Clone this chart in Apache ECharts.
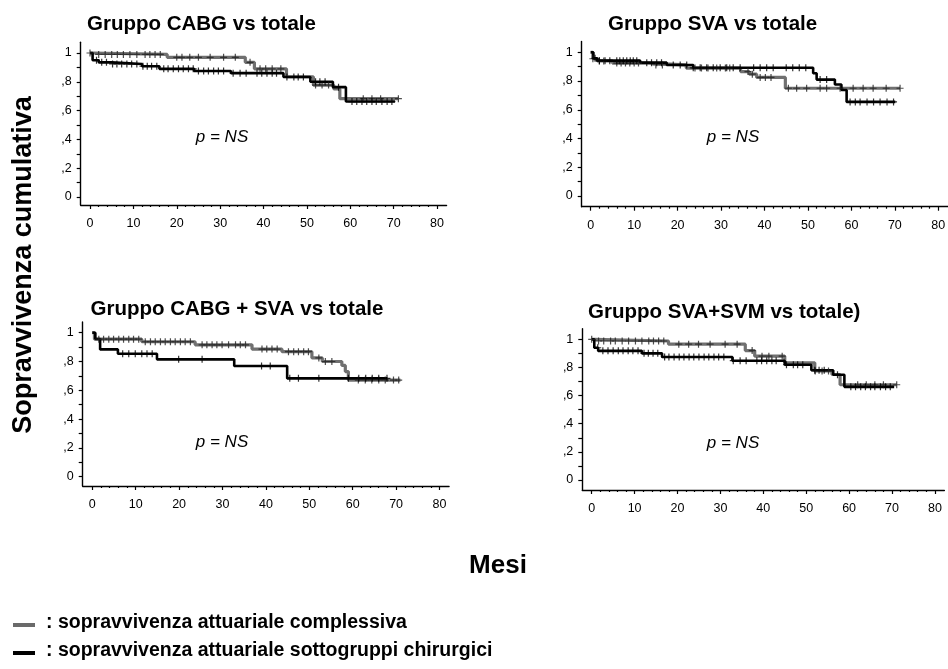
<!DOCTYPE html>
<html><head><meta charset="utf-8">
<script src="https://cdn.jsdelivr.net/npm/echarts@6.0.0/dist/echarts.min.js"></script>
<style>html,body{margin:0;padding:0;background:#fff}#c{width:948px;height:669px}</style>
</head><body><div id="c"></div><script>
// ---- tick labels ----
const xTickValues = [0,10,20,30,40,50,60,70,80];
const xMinorValues = [2,4,6,8,12,14,16,18,22,24,26,28,32,34,36,38,42,44,46,48,52,54,56,58,62,64,66,68,72,74,76,78];
const yTickValues = [0,0.1,0.2,0.3,0.4,0.5,0.6,0.7,0.8,0.9,1];
const yLabelValues = [0,0.2,0.4,0.6,0.8,1];
const yLabelTexts = ['0',',2',',4',',6',',8','1'];
const titles = ['Gruppo CABG vs totale','Gruppo SVA vs totale','Gruppo CABG + SVA vs totale','Gruppo SVA+SVM vs totale)'];

// ---- Panel 1: CABG vs totale ----
const totT1 = [0, 0.5, 17.8, 35.8, 37.9, 45.3, 51.5, 56.2, 57.6, 71.1];
const totS1 = [1, 0.99, 0.97, 0.935, 0.89, 0.835, 0.777, 0.75, 0.683, 0.683];
const subT1 = [0, 0.6, 2, 5, 12, 16, 24, 32.5, 44.6, 50.8, 56, 59, 70.3];
const subS1 = [1, 0.95, 0.935, 0.924, 0.908, 0.89, 0.875, 0.86, 0.833, 0.80, 0.763, 0.663, 0.663];
const totC1 = [0, 2, 3.5, 5, 6.3, 7.7, 9.2, 10.8, 12.7, 13.8, 15, 16.2, 20, 21.2, 23, 25, 27.7, 30.8, 33.5, 36.9, 39.2, 40.5, 42, 44, 52, 53.5, 55, 63, 65, 67, 71.1];
const subC1 = [1.5, 2.7, 3.8, 5.2, 6.2, 7.3, 8.5, 9.6, 10.8, 12.2, 13.2, 14.2, 15.4, 17, 18, 19.2, 20.4, 21.5, 22.7, 23.8, 25, 26.2, 27.3, 28.5, 29.6, 30.8, 33, 34.6, 36, 38.5, 39.6, 40.8, 42, 43, 45.4, 47, 48, 49.2, 52, 53, 54.2, 57.3, 60.4, 61.5, 62.7, 63.8, 65, 66, 67.3, 68.5, 69.6];

// ---- Panel 2: SVA vs totale ----
const totT2 = [0, 0.5, 1.5, 5, 13, 22, 34.5, 36.5, 38.2, 44.8, 71.2];
const totS2 = [1, 0.955, 0.94, 0.925, 0.912, 0.89, 0.866, 0.848, 0.825, 0.75, 0.75];
const subT2 = [0, 0.6, 1.5, 11.4, 17.5, 23.6, 51.2, 52, 56.2, 57.7, 58.9, 70.1];
const subS2 = [1, 0.958, 0.942, 0.928, 0.912, 0.892, 0.854, 0.81, 0.776, 0.738, 0.655, 0.655];
const totC2 = [0.5, 2, 3, 6, 7, 8, 9, 10, 11, 15, 16.5, 24, 25.5, 27, 29, 31, 32, 36.2, 37.2, 39, 40.2, 41.5, 45.5, 47.4, 49.7, 52.8, 54.3, 57.4, 60.4, 62.7, 65, 68, 71.2];
const subC2 = [1, 2, 3.3, 4.4, 6, 6.7, 7.5, 8.3, 9.1, 9.8, 10.6, 12.9, 14, 15.2, 16.3, 19, 20.6, 22.1, 23.6, 25.2, 26.7, 28.2, 29.8, 31.3, 32.8, 34.4, 37.5, 39, 40.5, 42, 45, 46.5, 48, 49.5, 52.8, 54.3, 59.7, 60.9, 62, 63.6, 65.1, 66.6, 68.2, 69.7];

// ---- Panel 3: CABG + SVA vs totale ----
const totT3 = [0, 0.5, 11.4, 23.7, 36.8, 43.7, 50.6, 53, 57.5, 58.3, 59, 71];
const totS3 = [1, 0.955, 0.937, 0.916, 0.886, 0.868, 0.825, 0.80, 0.773, 0.73, 0.671, 0.671];
const subT3 = [0, 0.7, 1.8, 5.9, 14.9, 32.7, 44.9, 68];
const subS3 = [1, 0.956, 0.884, 0.854, 0.815, 0.769, 0.683, 0.683];
const totC3 = [1.5, 2.6, 3.8, 4.9, 6.1, 7.2, 8.4, 9.5, 10.7, 12.2, 13.4, 14.5, 15.7, 16.8, 18, 19.1, 20.3, 21.4, 22.6, 25.3, 26.4, 27.6, 28.7, 29.9, 31.4, 33, 34.1, 35.3, 39.1, 40.2, 41.4, 42.6, 45.2, 46.4, 47.5, 48.7, 49.8, 52.2, 53.7, 55.2, 61.3, 62.9, 64.4, 66, 67.5, 69.4, 70.6];
const subC3 = [7, 8.4, 9.9, 11.4, 12.6, 13.8, 19.9, 25.3, 39, 41, 45.5, 47.5, 52.2, 59, 61.4, 63, 64.5, 66, 67.9];

// ---- Panel 4: SVA+SVM vs totale ----
const totT4 = [0, 0.5, 17.9, 35.8, 38, 45, 52, 56, 57.9, 71.1];
const totS4 = [1, 0.988, 0.965, 0.92, 0.88, 0.833, 0.775, 0.75, 0.677, 0.677];
const subT4 = [0, 0.6, 1.5, 11.7, 16.4, 32.8, 45, 51.2, 56.3, 58.9, 70.5];
const subS4 = [1, 0.94, 0.918, 0.90, 0.874, 0.848, 0.819, 0.78, 0.748, 0.662, 0.662];
const totC4 = [0, 1.6, 2.8, 4.4, 5.5, 7.1, 8.6, 10.2, 11.7, 13.3, 14.4, 15.6, 16.8, 20.3, 22.6, 24.9, 27.6, 31.1, 33.9, 37.4, 39.7, 41.3, 44.4, 52.1, 53.7, 55.2, 62, 64, 66, 68, 71.1];
const subC4 = [1.4, 2.6, 3.8, 5, 6.2, 7.3, 8.5, 9.6, 10.8, 12.2, 13.2, 14.3, 15.4, 17, 18, 19.2, 20.4, 21.5, 22.7, 23.8, 25, 26.2, 27.3, 28.5, 29.6, 30.8, 33, 34.6, 36, 38.5, 39.6, 40.8, 42, 43, 45.4, 47, 48, 49.2, 52, 53, 54.2, 57.3, 60.4, 61.5, 62.7, 63.8, 65, 66, 67.3, 68.5, 69.6];

const panels = [
  {tT: totT1, tS: totS1, sT: subT1, sS: subS1, tC: totC1, sC: subC1},
  {tT: totT2, tS: totS2, sT: subT2, sS: subS2, tC: totC2, sC: subC2},
  {tT: totT3, tS: totS3, sT: subT3, sS: subS3, tC: totC3, sC: subC3},
  {tT: totT4, tS: totS4, sT: subT4, sS: subS4, tC: totC4, sC: subC4}
];

// ---- layout (pixels) ----
const frames = [
  {x0: 90,    kx: 4.3375, y0: 197,   ky: 144,   ax: 80.7,  ay: 205,   tx: 87,  ty: 24,  px: 222, py: 137},
  {x0: 590.7, kx: 4.345,  y0: 196,   ky: 143.7, ax: 581.7, ay: 206.7, tx: 608, ty: 24,  px: 733, py: 137},
  {x0: 92.3,  kx: 4.34,   y0: 476.7, ky: 144,   ax: 82.7,  ay: 486,   tx: 90.5,ty: 309, px: 222, py: 442},
  {x0: 591.7, kx: 4.29,   y0: 480,   ky: 140.7, ax: 582.3, ay: 490,   tx: 588, ty: 312, px: 733, py: 443}
];
const X_END = 82.2, Y_TOP = 1.075;
const FONT = 'Liberation Sans, Arial, Helvetica, sans-serif';

function stepAt(T, S, t) {
  let v = S[0];
  for (let i = 0; i < T.length; i++) { if (T[i] <= t) v = S[i]; }
  return v;
}
const plus = 'path://M-0.6,-3.5L0.6,-3.5L0.6,-0.6L3.5,-0.6L3.5,0.6L0.6,0.6L0.6,3.5L-0.6,3.5L-0.6,0.6L-3.5,0.6L-3.5,-0.6L-0.6,-0.6Z';

const grid = [], xAxis = [], yAxis = [], series = [], graphic = [];
frames.forEach((f, i) => {
  const xmin = (f.ax - f.x0) / f.kx;
  const ymin = -(f.ay - f.y0) / f.ky;
  const top = f.y0 - f.ky * Y_TOP;
  grid.push({left: f.ax, top: top, width: f.kx * (X_END - xmin), height: f.ay - top, outerBoundsMode: 'none'});
  xAxis.push({
    type: 'value', gridIndex: i, min: xmin, max: X_END,
    axisLine: {show: true, onZero: false, lineStyle: {color: '#000', width: 1.4}},
    axisTick: {show: true, customValues: xTickValues, length: 4, lineStyle: {color: '#000', width: 1.2}},
    axisLabel: {show: true, customValues: xTickValues, margin: 12, fontSize: 12.5, color: '#000', fontFamily: FONT},
    splitLine: {show: false}
  });
  xAxis.push({
    type: 'value', gridIndex: i, min: xmin, max: X_END, position: 'bottom',
    axisLine: {show: false, onZero: false},
    axisTick: {show: true, customValues: xMinorValues, length: 2, lineStyle: {color: '#000', width: 1.2}},
    axisLabel: {show: false},
    splitLine: {show: false}
  });
  yAxis.push({
    type: 'value', gridIndex: i, min: ymin, max: Y_TOP,
    axisLine: {show: true, onZero: false, lineStyle: {color: '#000', width: 1.4}},
    axisTick: {show: true, customValues: yTickValues, length: 4, lineStyle: {color: '#000', width: 1.2}},
    axisLabel: {show: true, customValues: yLabelValues, margin: 9, fontSize: 12.5, color: '#000', fontFamily: FONT,
      formatter: v => { const k = yLabelValues.findIndex(u => Math.abs(u - v) < 1e-6); return k >= 0 ? yLabelTexts[k] : ''; }},
    splitLine: {show: false}
  });
  const p = panels[i];
  series.push({
    type: 'line', xAxisIndex: 2 * i, yAxisIndex: i, step: 'end', showSymbol: false, silent: true, z: 2,
    data: p.tT.map((t, k) => [t, p.tS[k]]), lineStyle: {color: '#707070', width: 3.2}
  });
  series.push({
    type: 'line', xAxisIndex: 2 * i, yAxisIndex: i, step: 'end', showSymbol: false, silent: true, z: 3,
    data: p.sT.map((t, k) => [t, p.sS[k]]), lineStyle: {color: '#000', width: 2.6}
  });
  series.push({
    type: 'scatter', xAxisIndex: 2 * i, yAxisIndex: i, silent: true, z: 4, symbol: plus, symbolSize: [7, 7],
    data: p.tC.map(t => [t, stepAt(p.tT, p.tS, t)]), itemStyle: {color: '#222'}
  });
  series.push({
    type: 'scatter', xAxisIndex: 2 * i, yAxisIndex: i, silent: true, z: 5, symbol: plus, symbolSize: [7, 7],
    data: p.sC.map(t => [t, stepAt(p.sT, p.sS, t)]), itemStyle: {color: '#000'}
  });
  graphic.push({type: 'text', silent: true, style: {text: titles[i], x: f.tx, y: f.ty, font: 'bold 20.5px ' + FONT, fill: '#000', align: 'left', verticalAlign: 'middle'}});
  graphic.push({type: 'text', silent: true, style: {text: 'p = NS', x: f.px, y: f.py, font: 'italic 17px ' + FONT, fill: '#000', align: 'center', verticalAlign: 'middle'}});
});

graphic.push({type: 'text', silent: true, x: 23.5, y: 265, rotation: Math.PI / 2,
  style: {text: 'Sopravvivenza cumulativa', x: 0, y: 0, font: 'bold 27px ' + FONT, fill: '#000', align: 'center', verticalAlign: 'middle'}});
graphic.push({type: 'text', silent: true, style: {text: 'Mesi', x: 498, y: 566, font: 'bold 26px ' + FONT, fill: '#000', align: 'center', verticalAlign: 'middle'}});
graphic.push({type: 'line', silent: true, shape: {x1: 13, y1: 625, x2: 35, y2: 625}, style: {stroke: '#6a6a6a', lineWidth: 4}});
graphic.push({type: 'line', silent: true, shape: {x1: 13, y1: 653, x2: 35, y2: 653}, style: {stroke: '#000', lineWidth: 4}});
graphic.push({type: 'text', silent: true, style: {text: ': sopravvivenza attuariale complessiva', x: 46, y: 622.5, font: 'bold 19.5px ' + FONT, fill: '#000', align: 'left', verticalAlign: 'middle'}});
graphic.push({type: 'text', silent: true, style: {text: ': sopravvivenza attuariale sottogruppi chirurgici', x: 46, y: 650.5, font: 'bold 19.5px ' + FONT, fill: '#000', align: 'left', verticalAlign: 'middle'}});

const chart = echarts.init(document.getElementById('c'), null, {renderer: 'canvas'});
chart.setOption({animation: false, backgroundColor: '#fff', grid, xAxis, yAxis, series, graphic});
</script></body></html>
